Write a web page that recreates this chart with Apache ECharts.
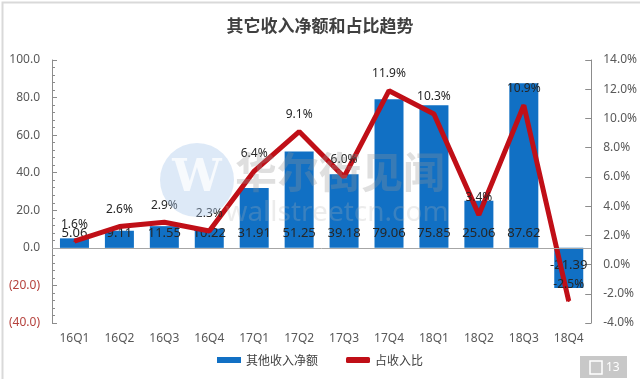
<!DOCTYPE html>
<html><head><meta charset="utf-8">
<script src="https://cdn.jsdelivr.net/npm/echarts@6/dist/echarts.min.js"></script>
<style>html,body{margin:0;padding:0;background:#fff}#c{width:640px;height:379px}</style>
</head><body><div id="c"></div>
<script>
const categories = ['16Q1','16Q2','16Q3','16Q4','17Q1','17Q2','17Q3','17Q4','18Q1','18Q2','18Q3','18Q4'];
const netIncome = [5.06, 9.11, 11.55, 10.22, 31.91, 51.25, 39.18, 79.06, 75.85, 25.06, 87.62, -21.39];
const ratio = [1.6, 2.6, 2.9, 2.3, 6.4, 9.1, 6.0, 11.9, 10.3, 3.4, 10.9, -2.5];
const seriesNames = ['其他收入净额', '占收入比'];
const titleText = '其它收入净额和占比趋势';

const FONT = '"Noto Sans", "Noto Sans CJK SC", sans-serif';
const chart = echarts.init(document.getElementById('c'), null, {renderer: 'canvas'});
chart.setOption({
  animation: false,
  backgroundColor: '#fff',
  textStyle: {fontFamily: FONT},
  title: {
    text: titleText, left: 'center', top: 12,
    textStyle: {fontSize: 17, fontWeight: 'bold', color: '#404040', fontFamily: '"Noto Sans CJK SC", sans-serif'}
  },
  legend: {
    bottom: 8, left: 'center', itemGap: 28, itemWidth: 24, itemHeight: 6,
    textStyle: {fontSize: 12, color: '#404040', fontFamily: '"Noto Sans CJK SC", sans-serif'},
    data: [
      {name: seriesNames[0], icon: 'rect'},
      {name: seriesNames[1], icon: 'roundRect'}
    ]
  },
  grid: {left: 52, right: 47, top: 60, bottom: 56, containLabel: false},
  xAxis: {
    type: 'category', data: categories,
    axisLine: {show: false}, axisTick: {show: false},
    axisLabel: {color: '#595959', fontSize: 12, margin: 10}
  },
  yAxis: [
    {
      type: 'value', min: -40, max: 100, interval: 20,
      splitLine: {show: false},
      axisLine: {show: true, lineStyle: {color: '#8c8c8c'}},
      axisTick: {show: true, inside: true, length: 5, lineStyle: {color: '#8c8c8c'}},
      minorTick: {show: true, splitNumber: 5, length: 3, lineStyle: {color: '#8c8c8c'}},
      axisLabel: {
        margin: 12, fontSize: 12, color: '#595959',
        formatter: v => v < 0 ? '{n|(' + Math.abs(v).toFixed(1) + ')}' : v.toFixed(1),
        rich: {n: {color: '#b5413c', fontSize: 12}}
      }
    },
    {
      type: 'value', min: -4, max: 14, interval: 2, position: 'right',
      splitLine: {show: false},
      axisLine: {show: true, lineStyle: {color: '#8c8c8c'}},
      axisTick: {show: true, inside: true, length: 6, lineStyle: {color: '#8c8c8c'}},
      axisLabel: {margin: 12, fontSize: 12, color: '#595959', formatter: v => v.toFixed(1) + '%'}
    }
  ],
  graphic: [
    {type: 'rect', left: 0, top: 0, shape: {width: 639, height: 378}, style: {fill: 'none', stroke: '#d9d9d9', lineWidth: 2}, z: 100, silent: true},
    {type: 'circle', shape: {cx: 197, cy: 180, r: 37}, style: {fill: 'rgba(170,200,235,0.4)'}, z: 50, silent: true},
    {type: 'text', x: 197, y: 180, style: {text: 'W', fill: 'rgba(255,255,255,0.75)', font: 'bold 44px "DejaVu Serif", serif', align: 'center', verticalAlign: 'middle'}, z: 51, silent: true},
    {type: 'text', x: 340, y: 172, style: {text: '华尔街见闻', fill: 'rgba(150,150,150,0.3)', font: 'bold 42px "Noto Sans CJK SC", sans-serif', align: 'center', verticalAlign: 'middle'}, z: 50, silent: true},
    {type: 'text', x: 337, y: 213, style: {text: 'wallstreetcn.com', fill: 'rgba(180,180,180,0.25)', font: '28px "Noto Sans", sans-serif', align: 'center', verticalAlign: 'middle'}, z: 50, silent: true},
    {type: 'rect', shape: {x: 580, y: 356, width: 47, height: 22}, style: {fill: '#c8c8c8'}, z: 60, silent: true},
    {type: 'rect', shape: {x: 590, y: 361, width: 12, height: 13}, style: {fill: 'none', stroke: '#fff', lineWidth: 1.5}, z: 61, silent: true},
    {type: 'text', x: 606, y: 368, style: {text: '13', fill: '#fff', font: '12px "Noto Sans", sans-serif', verticalAlign: 'middle'}, z: 61, silent: true}
  ],
  series: [
    {
      name: seriesNames[0], type: 'bar', yAxisIndex: 0, barWidth: 29,
      itemStyle: {color: '#1170c4'},
      data: netIncome.map(v => v < 0 ? {value: v, label: {position: 'inside', offset: [0, -3]}} : v),
      label: {show: true, position: 'insideBottom', distance: 8, color: '#262626', fontSize: 13, formatter: p => p.value.toFixed(2)},
      markLine: {silent: true, symbol: 'none', label: {show: false}, lineStyle: {color: '#a6a6a6', type: 'solid', width: 1}, data: [{yAxis: 0}]}
    },
    {
      name: seriesNames[1], type: 'line', yAxisIndex: 1,
      itemStyle: {color: '#c00f17'},
      lineStyle: {color: '#c00f17', width: 5},
      symbol: 'circle', symbolSize: 2, showSymbol: true,
      data: ratio,
      label: {show: true, position: 'top', distance: 10, color: '#262626', fontSize: 12, formatter: p => p.value.toFixed(1) + '%'},
      labelLayout: {hideOverlap: false},
      z: 3
    }
  ]
});
</script></body></html>
